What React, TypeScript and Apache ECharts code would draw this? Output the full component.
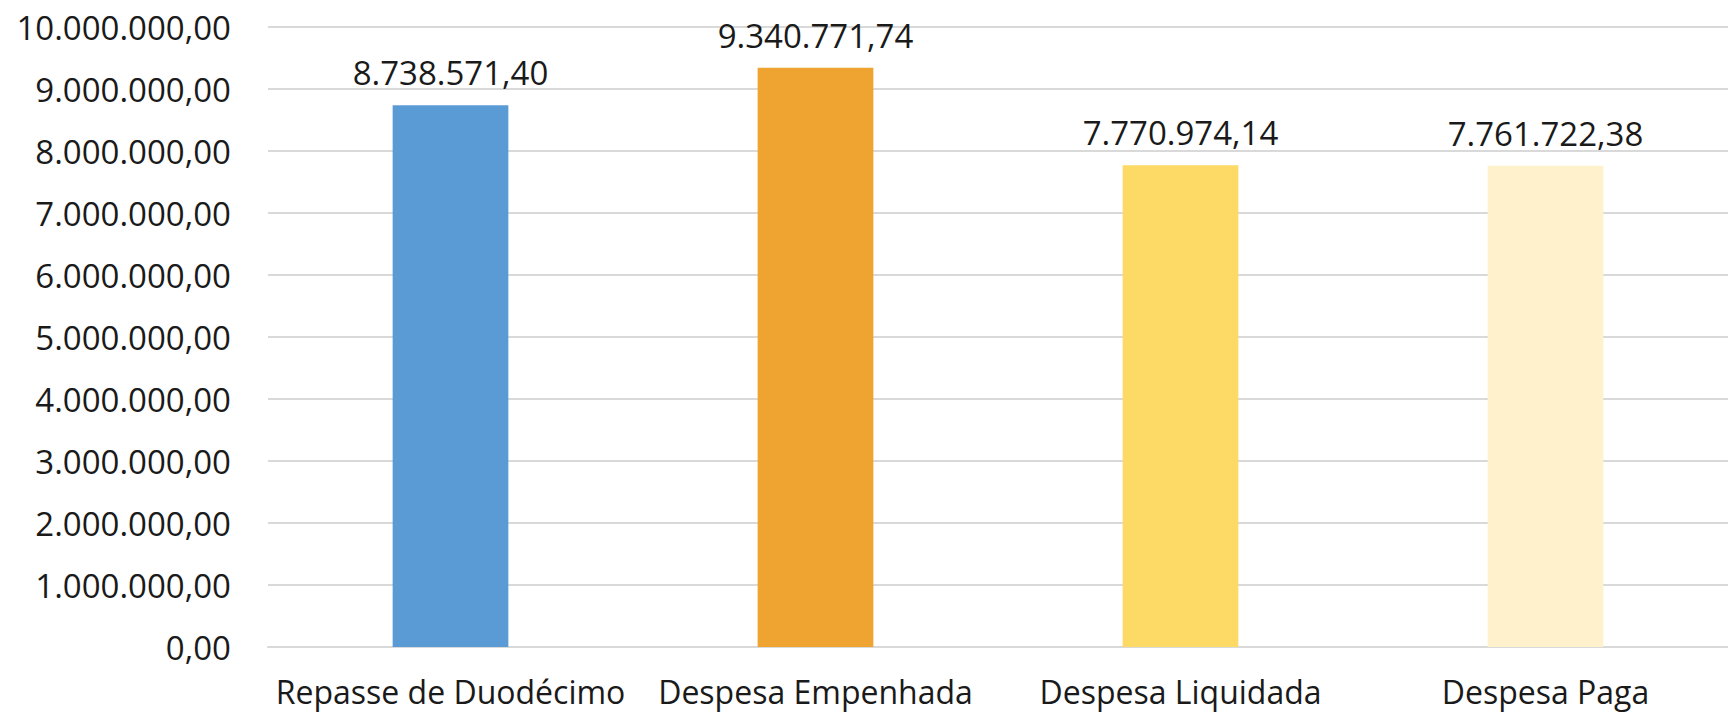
import React, { useEffect, useRef } from "react";
import * as echarts from "echarts";

const categories = ["Repasse de Duodécimo", "Despesa Empenhada", "Despesa Liquidada", "Despesa Paga"];
const values = [8738571.4, 9340771.74, 7770974.14, 7761722.38];
const barColors = ["#5B9BD5", "#EFA331", "#FDD966", "#FFF1CC"];
const yTicks = [0, 1000000, 2000000, 3000000, 4000000, 5000000, 6000000, 7000000, 8000000, 9000000, 10000000];

function fmtBR(v: number): string {
  const fixed = Math.abs(v).toFixed(2);
  const [intPart, dec] = fixed.split(".");
  const withDots = intPart.replace(/\B(?=(\d{3})+(?!\d))/g, ".");
  return (v < 0 ? "-" : "") + withDots + "," + dec;
}

const FONT = "'Open Sans', 'Noto Sans', sans-serif";

export default function App() {
  const ref = useRef<HTMLDivElement>(null);
  useEffect(() => {
    if (!ref.current) return;
    const chart = echarts.init(ref.current, undefined, { renderer: "svg" });
    chart.setOption({
      animation: false,
      backgroundColor: "#ffffff",
      grid: { left: 268, right: -15, top: 27, bottom: 67, containLabel: false },
      xAxis: {
        type: "category",
        data: categories,
        axisLine: { show: true, lineStyle: { color: "#D9D9D9", width: 2 } },
        axisTick: { show: false },
        axisLabel: { color: "#1a1a1a", fontSize: 32, fontFamily: FONT, margin: 28, interval: 0 },
      },
      yAxis: {
        type: "value",
        min: yTicks[0],
        max: yTicks[yTicks.length - 1],
        interval: 1000000,
        axisLine: { show: false },
        axisTick: { show: false },
        splitLine: { show: true, lineStyle: { color: "#D9D9D9", width: 2 } },
        axisLabel: {
          color: "#1a1a1a",
          fontSize: 33,
          fontFamily: FONT,
          margin: 37,
          formatter: (v: number) => fmtBR(v),
        },
      },
      series: [
        {
          type: "bar",
          barWidth: "31.7%",
          data: values.map((v, i) => ({ value: v, itemStyle: { color: barColors[i] } })),
          label: {
            show: true,
            position: "top",
            distance: 16,
            color: "#1a1a1a",
            fontSize: 33,
            fontFamily: FONT,
            formatter: (p: any) => fmtBR(p.value),
          },
        },
      ],
    });
    return () => chart.dispose();
  }, []);
  return (
    <div
      ref={ref}
      style={{ position: "fixed", left: 0, top: 0, width: 1728, height: 714, background: "#fff" }}
    />
  );
}
